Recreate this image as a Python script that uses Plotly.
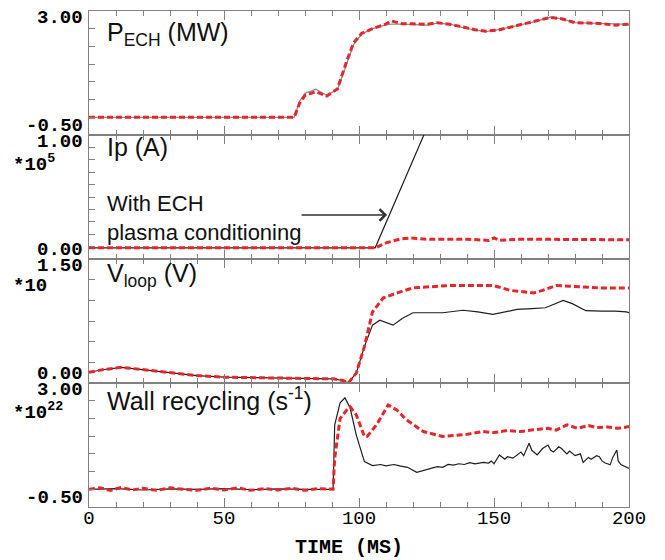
import plotly.graph_objects as go
from plotly.subplots import make_subplots

# ---------------- data ----------------
# Panel 1: P_ECH (MW)
t_pech = [0, 76, 78, 80, 84, 88, 92, 95.5, 98, 101, 105, 109.6, 112, 116, 120, 125, 129, 134,
          138.5, 143, 147, 152, 158.5, 165, 171, 175, 180, 185, 189, 195, 200]
pech_red = [0, 0, 0.4, 0.62, 0.72, 0.6, 0.8, 1.6, 2.1, 2.37, 2.5, 2.62, 2.72, 2.64, 2.64, 2.62, 2.67, 2.62,
            2.55, 2.47, 2.43, 2.47, 2.59, 2.7, 2.82, 2.78, 2.67, 2.66, 2.65, 2.6, 2.63]
pech_gray = [0, 0, 0.45, 0.68, 0.79, 0.62, 0.78, 1.55, 2.05, 2.35, 2.5, 2.6, 2.63, 2.63, 2.62, 2.6, 2.66, 2.62,
             2.53, 2.46, 2.42, 2.48, 2.59, 2.7, 2.83, 2.78, 2.67, 2.66, 2.64, 2.62, 2.62]

# Panel 2: Ip (A) x1e5
t_ip_black = [0, 106, 126]
ip_black = [0.09, 0.09, 1.1]
t_ip_red = [0, 106, 110, 115, 119, 125, 140, 148, 150, 152, 160, 180, 200]
ip_red = [0.09, 0.09, 0.13, 0.16, 0.17, 0.16, 0.16, 0.15, 0.17, 0.15, 0.16, 0.155, 0.155]

# Panel 3: V_loop (V) x10
t_v_black = [0, 5, 12, 20, 30, 40, 50, 60, 70, 80, 90.4, 94, 96, 99, 102, 105, 107.7, 112.6, 116, 120,
             125, 131, 138.5, 144, 149.6, 154, 158.5, 164, 169, 172, 175.6, 179, 184, 190, 195, 199, 200]
v_black = [0.13, 0.16, 0.19, 0.16, 0.12, 0.09, 0.07, 0.065, 0.06, 0.055, 0.05, 0.03, 0.0, 0.12, 0.44,
           0.70, 0.76, 0.70, 0.78, 0.85, 0.85, 0.85, 0.88, 0.86, 0.83, 0.86, 0.89, 0.90, 0.91, 0.95, 1.0,
           0.96, 0.875, 0.87, 0.87, 0.86, 0.85]
t_v_red = [0, 5, 12, 20, 30, 40, 50, 60, 70, 80, 90.4, 94, 96, 99, 102, 105, 109, 115, 120, 133.7,
           149.6, 153, 156, 164.6, 168, 173, 183, 190, 199, 200]
v_red = [0.13, 0.16, 0.19, 0.16, 0.12, 0.09, 0.07, 0.065, 0.06, 0.055, 0.05, 0.03, 0.0, 0.12, 0.44,
         0.86, 1.03, 1.10, 1.15, 1.18, 1.18, 1.15, 1.12, 1.09, 1.12, 1.18, 1.16, 1.15, 1.15, 1.15]

# Panel 4: Wall recycling (s^-1) x1e22
t_w_black = [0, 10, 20, 30, 40, 50, 60, 70, 80, 90.4, 91, 93, 94.8, 96.7, 99, 102, 105, 108, 110, 113,
             115, 118, 121.4, 125, 129, 131, 133, 135, 137, 139, 141, 143, 146, 148, 149, 150, 152,
             154, 155, 157, 159, 160, 161, 163, 164, 166, 168, 170, 171, 172, 174, 175, 177, 178, 180,
             182, 183, 185, 186, 188, 189, 190, 191, 193, 194, 195.5, 196, 197, 200]
w_black = [0, 0.02, -0.02, 0.01, 0, 0.02, -0.01, 0.01, 0, 0, 1.82, 2.44, 2.58, 2.3, 1.53, 0.78, 0.67,
           0.7, 0.66, 0.7, 0.66, 0.62, 0.48, 0.55, 0.64, 0.62, 0.7, 0.68, 0.72, 0.7, 0.75, 0.72, 0.76,
           0.74, 0.8, 0.72, 0.97, 0.85, 0.92, 0.88, 1.0, 1.05, 0.95, 1.3, 1.1, 0.97, 1.15, 1.25, 1.1,
           1.05, 1.2, 1.15, 1.0, 1.08, 0.95, 1.0, 0.76, 0.9, 0.85, 0.95, 0.92, 0.8, 0.75, 0.69, 0.9,
           1.11, 0.8, 0.7, 0.59]
t_w_red = [0, 4, 8, 12, 16, 20, 25, 30, 35, 40, 45, 50, 55, 60, 65, 70, 75, 80, 85, 90.4, 91, 93,
           95.5, 96.7, 99, 102, 103, 106.5, 110.8, 114, 117.6, 123.8, 131, 135, 140, 146, 150, 155,
           160, 164.6, 170, 173, 177, 181, 185, 188, 192, 196, 200]
w_red = [0.0, 0.04, -0.03, 0.05, -0.02, 0.03, -0.03, 0.04, 0.0, -0.03, 0.03, -0.02, 0.04, -0.03, 0.02,
         -0.02, 0.03, -0.03, 0.02, 0.0, 0.88, 2.0, 2.24, 2.33, 2.1, 1.49, 1.49, 1.82, 2.38, 2.24, 1.96,
         1.63, 1.49, 1.52, 1.55, 1.63, 1.6, 1.66, 1.63, 1.68, 1.72, 1.67, 1.82, 1.72, 1.8, 1.74, 1.76,
         1.72, 1.77]

# Axis limits and labels
y_ranges = [(-0.5, 3.0), (0.0, 1.0), (0.0, 1.5), (-0.5, 3.0)]
y_dticks = [0.5, 0.1, 0.25, 0.5]
y_top_labels = ["3.00", "1.00", "1.50", "3.00"]
y_bot_labels = ["-0.50", "0.00", "0.00", "-0.50"]
scale_labels = [None, "*10<sup>5</sup>", "*10", "*10<sup>22</sup>"]
panel_titles = ["P<sub>ECH</sub> (MW)", "Ip (A)", "V<sub>loop</sub> (V)", "Wall recycling (s<sup>-1</sup>)"]
x_tickvals = [0, 50, 100, 150, 200]

RED = "#e8262a"
BLACK = "#1e1e1e"
GRAY = "#8c8c8c"
AXC = "#808080"
MONO = "Liberation Mono"
SANS = "Liberation Sans, Arial"

fig = make_subplots(rows=4, cols=1, shared_xaxes=True, vertical_spacing=0)

red_line = dict(color=RED, width=3, dash="6px,3px")
blk_line = dict(color=BLACK, width=1.2)

fig.add_trace(go.Scatter(x=t_pech, y=pech_gray, mode="lines", line=dict(color=GRAY, width=1.3)), row=1, col=1)
fig.add_trace(go.Scatter(x=t_pech, y=pech_red, mode="lines", line=red_line), row=1, col=1)

fig.add_trace(go.Scatter(x=t_ip_black, y=ip_black, mode="lines", line=blk_line), row=2, col=1)
fig.add_trace(go.Scatter(x=t_ip_red, y=ip_red, mode="lines", line=red_line), row=2, col=1)

fig.add_trace(go.Scatter(x=t_v_black, y=v_black, mode="lines", line=blk_line), row=3, col=1)
fig.add_trace(go.Scatter(x=t_v_red, y=v_red, mode="lines", line=red_line), row=3, col=1)

fig.add_trace(go.Scatter(x=t_w_black, y=w_black, mode="lines", line=blk_line), row=4, col=1)
fig.add_trace(go.Scatter(x=t_w_red, y=w_red, mode="lines", line=red_line), row=4, col=1)

W, H = 665, 560
L, R, T, B = 89, 36, 11, 53
PW, PH = W - L - R, H - T - B


def px(x):
    return (x - L) / PW


def py(y):
    return (H - B - y) / PH


for i in range(4):
    r = i + 1
    lo, hi = y_ranges[i]
    fig.update_yaxes(row=r, col=1, range=[lo, hi], tick0=lo, dtick=y_dticks[i],
                     ticks="inside", ticklen=6, tickcolor=AXC, tickwidth=1,
                     showticklabels=False, showgrid=False, zeroline=False,
                     showline=True, linecolor=AXC, linewidth=1.2, mirror=True)
    fig.update_xaxes(row=r, col=1, range=[0, 200], tickvals=x_tickvals,
                     ticks="inside", ticklen=9, tickcolor=AXC, tickwidth=1,
                     minor=dict(dtick=10, tick0=0, ticks="inside", ticklen=5, tickcolor=AXC),
                     showgrid=False, zeroline=False,
                     showline=True, linecolor=AXC, linewidth=1.2, mirror="allticks",
                     showticklabels=(r == 4))

fig.update_xaxes(row=4, col=1, tickfont=dict(family=MONO, size=19, color="black"),
                 ticklabelstandoff=-7)

annotations = []
panel_tops = [11, 135, 259, 383]
panel_bots = [135, 259, 383, 507]
for i in range(4):
    annotations.append(dict(xref="paper", yref="paper", x=px(84), y=py(panel_tops[i] - 5),
                            xanchor="right", yanchor="top", showarrow=False, borderpad=0,
                            text="<b>%s</b>" % y_top_labels[i],
                            font=dict(family=MONO, size=19, color="black")))
    annotations.append(dict(xref="paper", yref="paper", x=px(84), y=py(panel_bots[i] + 3),
                            xanchor="right", yanchor="bottom", showarrow=False, borderpad=0,
                            text="<b>%s</b>" % y_bot_labels[i],
                            font=dict(family=MONO, size=19, color="black")))
    if scale_labels[i]:
        annotations.append(dict(xref="paper", yref="paper", x=px(12), y=py(panel_tops[i] + 15),
                                xanchor="left", yanchor="top", showarrow=False, borderpad=0,
                                text="<b>%s</b>" % scale_labels[i],
                                font=dict(family=MONO, size=19, color="black")))

title_tops = [16, 131, 257, 381]
for i in range(4):
    annotations.append(dict(xref="paper", yref="paper", x=px(105), y=py(title_tops[i]),
                            xanchor="left", yanchor="top", showarrow=False,
                            text=panel_titles[i],
                            font=dict(family=SANS, size=25, color="#111")))

annotations.append(dict(xref="paper", yref="paper", x=px(105), y=py(189),
                        xanchor="left", yanchor="top", align="left", showarrow=False,
                        text="With ECH<br>plasma conditioning",
                        font=dict(family=SANS, size=22, color="#111")))
annotations.append(dict(xref="x2", yref="y2", x=110.4, y=0.355, ax=-87, ay=0,
                        showarrow=True, arrowhead=4, arrowsize=1.6, arrowwidth=1.4,
                        arrowcolor="#333", text=""))
annotations.append(dict(xref="paper", yref="paper", x=px(349), y=py(534),
                        xanchor="center", yanchor="top", showarrow=False,
                        text="<b>TIME (MS)</b>",
                        font=dict(family=MONO, size=20, color="black")))

fig.update_layout(width=W, height=H, margin=dict(l=L, r=R, t=T, b=B),
                  paper_bgcolor="white", plot_bgcolor="white", showlegend=False,
                  annotations=annotations)

fig.write_html("out.html")
